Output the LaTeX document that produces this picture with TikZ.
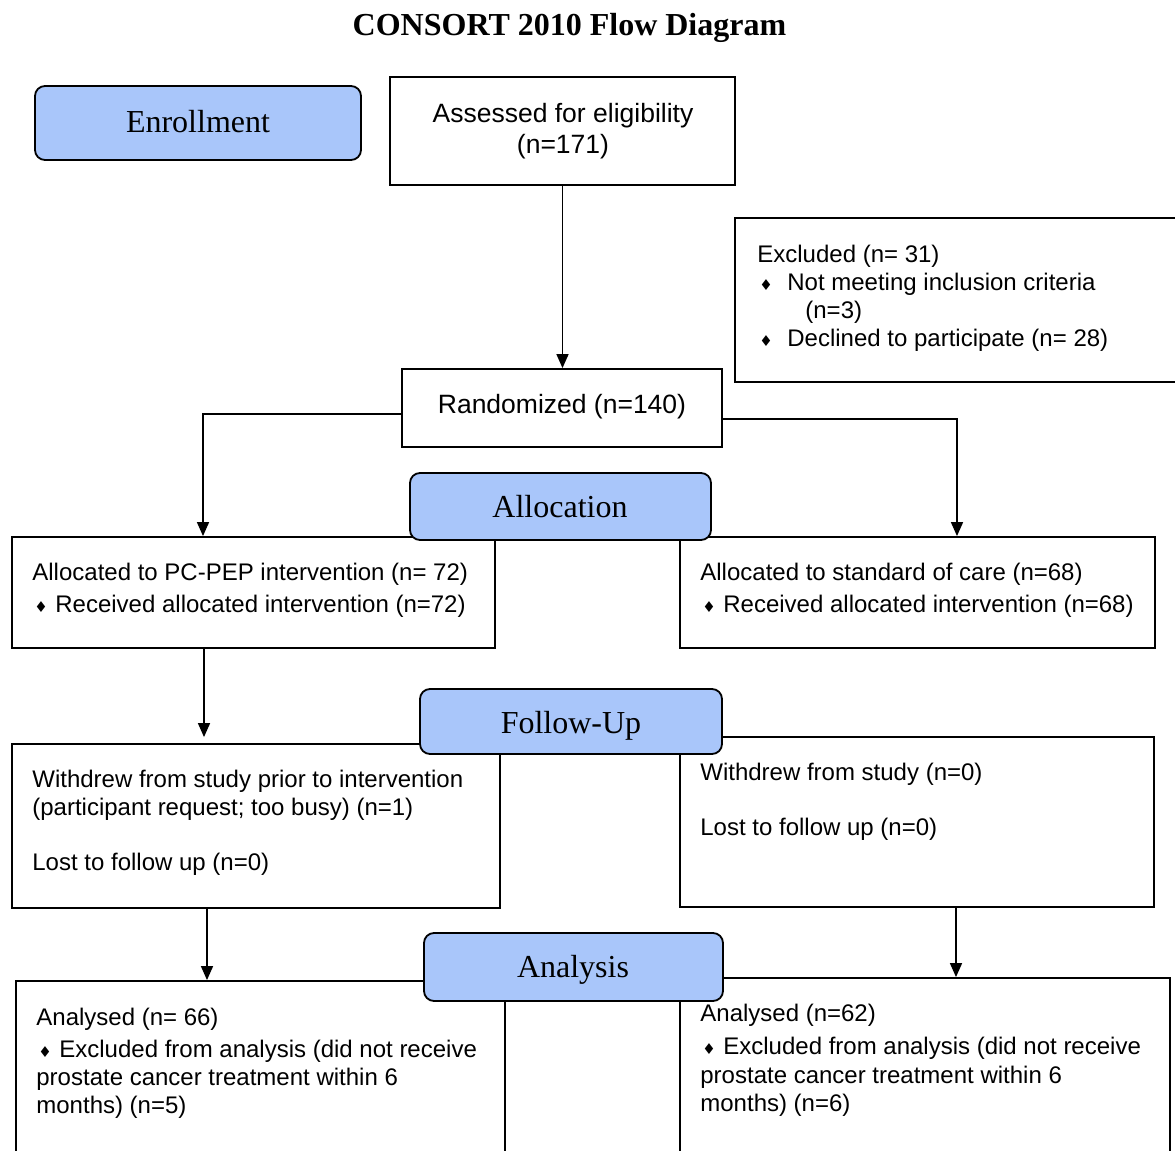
\documentclass[tikz,border=0pt]{standalone}
\usepackage{fontspec}
\setmainfont{Liberation Serif}
\newfontfamily\arialf{Liberation Sans}
\newfontfamily\symf{DejaVu Sans}
\usetikzlibrary{fit,arrows.meta}
\definecolor{phaseblue}{RGB}{169,198,250}
\newcommand\mybul{{\symf\fontsize{7.5}{7.5}\selectfont ♦}}
\begin{document}
\begin{tikzpicture}[x=0.5pt,y=-0.5pt,
  box/.style={draw, line width=0.9pt, inner sep=0pt, fill=white},
  phase/.style={draw, line width=0.9pt, fill=phaseblue, rounded corners=5pt, inner sep=0pt},
  ptxt/.style={anchor=base, inner sep=0pt, font=\fontsize{16}{18}\selectfont},
  btxt/.style={anchor=base, inner sep=0pt, font=\arialf\fontsize{13.25}{15}\selectfont},
  txt/.style={anchor=base west, inner sep=0pt, font=\arialf\fontsize{12}{14}\selectfont},
  bul/.style={anchor=base west, inner sep=0pt},
  arr/.style={line width=0.75pt, -{Triangle[length=7pt,width=6pt]}}
]
\useasboundingbox (0,0) rectangle (1175,1151);

% title
\node[anchor=base, inner sep=0pt, font=\bfseries\fontsize{16}{18}\selectfont] (title) at (569.5,35) {CONSORT 2010 Flow Diagram};

% white boxes
\node[box, fit={(390,77) (735,185)}] (ass) {};
\node[box, fit={(735,218) (1190,382)}] (exc) {};
\node[box, fit={(402,369) (722,447)}] (rand) {};
\node[box, fit={(12,537) (495,648)}] (aL) {};
\node[box, fit={(680,537) (1155,648)}] (aR) {};
\node[box, fit={(12,744) (500,908)}] (fL) {};
\node[box, fit={(680,737) (1154,907)}] (fR) {};
\node[box, fit={(16,981) (505,1200)}] (nL) {};
\node[box, fit={(680,978) (1170,1200)}] (nR) {};

% texts
\node[btxt] (t1) at (563,122) {Assessed for eligibility};
\node[btxt] (t2) at (563,153) {(n=171)};
\node[btxt] (t3) at (562,413) {Randomized (n=140)};

\node[txt] (e1) at (757,262) {Excluded (n= 31)};
\node[bul] (eb1) at (759,290) {\mybul};
\node[txt] (e2) at (787,290) {Not meeting inclusion criteria};
\node[txt] (e3) at (805,318) {(n=3)};
\node[bul] (eb2) at (759,346) {\mybul};
\node[txt] (e4) at (787,346) {Declined to participate (n= 28)};

\node[txt] (al1) at (32,580) {Allocated to PC-PEP intervention (n= 72)};
\node[bul] (alb) at (34,612) {\mybul};
\node[txt] (al2) at (55,612) {Received allocated intervention (n=72)};

\node[txt] (ar1) at (700,580) {Allocated to standard of care (n=68)};
\node[bul] (arb) at (702,612) {\mybul};
\node[txt] (ar2) at (723,612) {Received allocated intervention (n=68)};

\node[txt] (fl1) at (32,787) {Withdrew from study prior to intervention};
\node[txt] (fl2) at (32,815) {(participant request; too busy) (n=1)};
\node[txt] (fl3) at (32,870) {Lost to follow up (n=0)};

\node[txt] (fr1) at (700,780) {Withdrew from study (n=0)};
\node[txt] (fr2) at (700,835) {Lost to follow up (n=0)};

\node[txt] (nl1) at (36,1025) {Analysed (n= 66)};
\node[bul] (nlb) at (38,1057) {\mybul};
\node[txt] (nl2) at (59,1057) {Excluded from analysis (did not receive};
\node[txt] (nl3) at (36,1085) {prostate cancer treatment within 6};
\node[txt] (nl4) at (36,1113) {months) (n=5)};

\node[txt] (nr1) at (700,1021) {Analysed (n=62)};
\node[bul] (nrb) at (702,1054) {\mybul};
\node[txt] (nr2) at (723,1054) {Excluded from analysis (did not receive};
\node[txt] (nr3) at (700,1083) {prostate cancer treatment within 6};
\node[txt] (nr4) at (700,1111) {months) (n=6)};

% connectors
\coordinate (jL) at (203,414);
\coordinate (jR) at (957,419);
\coordinate (c1) at (204,0);
\coordinate (c2) at (207,0);
\coordinate (c3) at (956,0);
\draw[arr] (ass.south) -- (ass.south |- rand.north);
\draw[arr] (rand.west |- jL) -| (jL |- aL.north);
\draw[arr] (rand.east |- jR) -| (jR |- aR.north);
\draw[arr, shorten >=3pt] (c1 |- aL.south) -- (c1 |- fL.north);
\draw[arr] (c2 |- fL.south) -- (c2 |- nL.north);
\draw[arr] (c3 |- fR.south) -- (c3 |- nR.north);

% phase boxes
\node[phase, fit={(35,86) (361,160)}] (enr) {};
\node[ptxt] at (198,132) {Enrollment};
\node[phase, fit={(410,473) (711,540)}] (alloc) {};
\node[ptxt] at (560,517) {Allocation};
\node[phase, fit={(420,689) (722,754)}] (fu) {};
\node[ptxt] at (571,733) {Follow-Up};
\node[phase, fit={(424,933) (723,1001)}] (an) {};
\node[ptxt] at (573,977) {Analysis};
\end{tikzpicture}
\end{document}
